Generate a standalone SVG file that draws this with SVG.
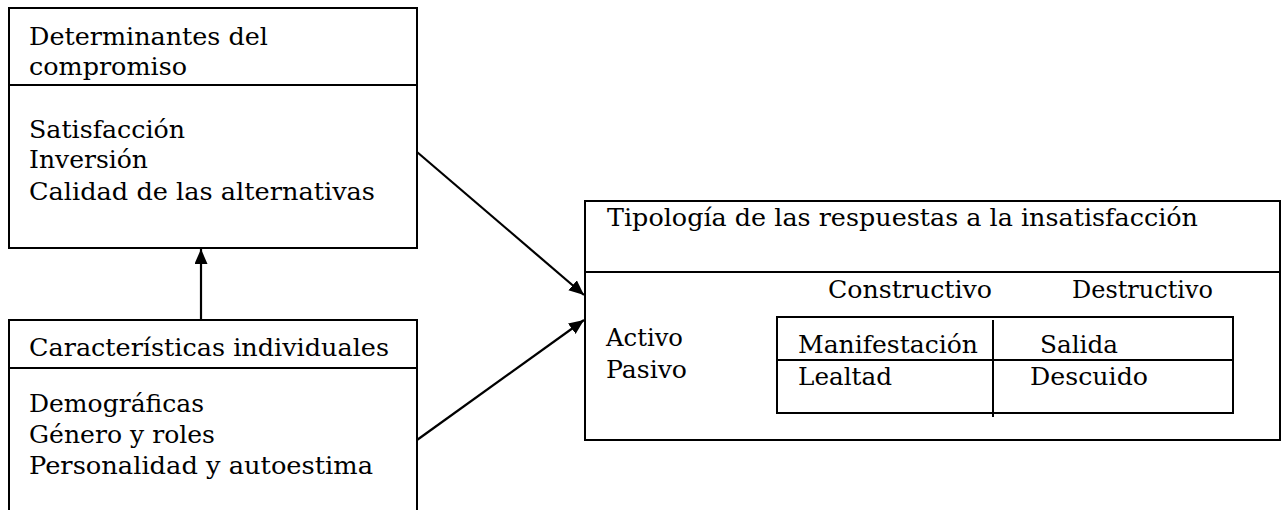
<svg xmlns="http://www.w3.org/2000/svg" width="1282" height="510" viewBox="0 0 1282 510">
<style>
.box{fill:#fff;stroke:#000;stroke-width:2}
.ln{stroke:#000;stroke-width:2;fill:none}
.t{font-family:"DejaVu Serif","Liberation Serif",serif;font-size:23.5px;fill:#000}
.c{stroke:#000;stroke-width:2.2;fill:none}
</style>
<defs>
<marker id="ah" markerUnits="userSpaceOnUse" markerWidth="16" markerHeight="14" refX="15" refY="6.5" orient="auto">
<path d="M0,0 L15,6.5 L0,13 z" fill="#000"/>
</marker>
</defs>
<g id="determinantes">
<rect class="box" x="9" y="8" width="408" height="240"/>
<line class="ln" x1="9" y1="85" x2="417" y2="85"/>
<text class="t" x="29" y="45" textLength="239" lengthAdjust="spacingAndGlyphs">Determinantes del</text>
<text class="t" x="29" y="75" textLength="158" lengthAdjust="spacingAndGlyphs">compromiso</text>
<text class="t" x="29" y="138" textLength="156" lengthAdjust="spacingAndGlyphs">Satisfacción</text>
<text class="t" x="29" y="168" textLength="119" lengthAdjust="spacingAndGlyphs">Inversión</text>
<text class="t" x="29" y="200" textLength="346" lengthAdjust="spacingAndGlyphs">Calidad de las alternativas</text>
</g>
<g id="caracteristicas">
<rect class="box" x="9" y="320" width="408" height="210"/>
<line class="ln" x1="9" y1="368" x2="417" y2="368"/>
<text class="t" x="29" y="356" textLength="360" lengthAdjust="spacingAndGlyphs">Características individuales</text>
<text class="t" x="29" y="412" textLength="175" lengthAdjust="spacingAndGlyphs">Demográficas</text>
<text class="t" x="29" y="443" textLength="186" lengthAdjust="spacingAndGlyphs">Género y roles</text>
<text class="t" x="29" y="474" textLength="344" lengthAdjust="spacingAndGlyphs">Personalidad y autoestima</text>
</g>
<g id="tipologia">
<rect class="box" x="585" y="201" width="695" height="239"/>
<line class="ln" x1="585" y1="272" x2="1280" y2="272"/>
<text class="t" x="607" y="226" textLength="591" lengthAdjust="spacingAndGlyphs">Tipología de las respuestas a la insatisfacción</text>
<text class="t" x="828" y="298" textLength="164" lengthAdjust="spacingAndGlyphs">Constructivo</text>
<text class="t" x="1072" y="298" textLength="141" lengthAdjust="spacingAndGlyphs">Destructivo</text>
<text class="t" x="606" y="346" textLength="77" lengthAdjust="spacingAndGlyphs">Activo</text>
<text class="t" x="606" y="378" textLength="81" lengthAdjust="spacingAndGlyphs">Pasivo</text>
<rect class="box" x="777" y="317" width="456" height="96"/>
<line class="ln" x1="777" y1="360" x2="1233" y2="360"/>
<line class="ln" x1="993" y1="320" x2="993" y2="417"/>
<text class="t" x="798" y="353" textLength="180" lengthAdjust="spacingAndGlyphs">Manifestación</text>
<text class="t" x="798" y="385" textLength="94" lengthAdjust="spacingAndGlyphs">Lealtad</text>
<text class="t" x="1040" y="353" textLength="78" lengthAdjust="spacingAndGlyphs">Salida</text>
<text class="t" x="1030" y="385" textLength="118" lengthAdjust="spacingAndGlyphs">Descuido</text>
</g>
<g id="connectors">
<line class="c" x1="201" y1="320" x2="201" y2="249" marker-end="url(#ah)"/>
<line class="c" x1="417" y1="152" x2="584" y2="295" marker-end="url(#ah)"/>
<line class="c" x1="417" y1="440" x2="584" y2="320" marker-end="url(#ah)"/>
</g>
</svg>
